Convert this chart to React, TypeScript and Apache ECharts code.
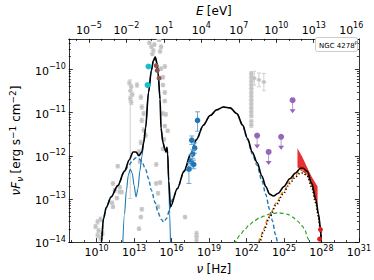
import React, { useEffect, useRef } from "react";
import * as echarts from "echarts";

// Axis ranges (log10 units)
const LOG_NU_MIN = 7.77;
const LOG_NU_MAX = 31;
const LOG_F_MIN = -14;
const LOG_F_MAX = -9.29;
const LOG_NU_PER_EV = 14.383; // log10(nu / E[eV]) = -log10(h)

// Tick labels (exponents)
const nuTicks = [10, 13, 16, 19, 22, 25, 28, 31];
const eTicks = [-5, -2, 1, 4, 7, 10, 13, 16];
const fTicks = [-14, -13, -12, -11, -10];

// Model curves [log nu, log nuFnu]
const totalModel = [
  [10.3, -14.3], [10.385, -14.0], [10.54, -13.47], [10.77, -13.2], [11.155, -12.956], [11.69, -12.69],
  [12.23, -12.356], [12.62, -12.09], [12.92, -11.91], [13.155, -11.91], [13.385, -12.0], [13.62, -11.91],
  [13.77, -11.69], [13.92, -11.356], [14.155, -10.53], [14.385, -10.02], [14.54, -9.8], [14.69, -9.71],
  [14.85, -9.87], [14.92, -10.09], [15.08, -10.69], [15.155, -11.356], [15.31, -11.69], [15.46, -11.84],
  [15.54, -11.91], [15.62, -11.8], [15.69, -11.96], [15.77, -12.58], [15.92, -13.18], [16.46, -12.76],
  [17.0, -12.356], [17.54, -11.956], [18.0, -11.62], [18.54, -11.29], [19.08, -11.067], [19.62, -10.933],
  [20.155, -10.867], [20.69, -10.889], [21.23, -11.022], [21.69, -11.289], [22.08, -11.6], [22.46, -11.911],
  [22.85, -12.156], [23.23, -12.467], [23.54, -12.711], [23.85, -12.889], [24.155, -12.933], [24.54, -12.867],
  [25.0, -12.711], [25.46, -12.533], [25.92, -12.4], [26.31, -12.289], [26.54, -12.289], [26.85, -12.356],
  [27.23, -12.644], [27.54, -13.0], [27.77, -13.356], [27.92, -13.689], [28.0, -14.0], [28.05, -14.3],
];
const synchrotron = [
  [10.3, -14.3], [10.385, -14.0], [10.54, -13.47], [10.77, -13.2], [11.155, -12.956], [11.69, -12.69],
  [12.23, -12.36], [12.62, -12.2], [12.92, -12.09], [13.155, -12.044], [13.385, -12.067], [13.62, -12.133],
  [13.92, -12.311], [14.155, -12.533], [14.385, -12.8], [14.69, -13.089], [14.92, -13.311], [15.155, -13.467],
  [15.385, -13.533], [15.62, -13.444], [15.85, -13.222], [16.08, -13.0], [16.46, -12.77], [17.0, -12.37],
  [17.54, -11.97], [18.0, -11.63], [18.54, -11.29], [19.08, -11.07], [19.62, -10.935], [20.155, -10.87],
  [20.69, -10.89], [21.23, -11.025], [21.69, -11.29], [22.08, -11.622], [22.46, -11.956], [22.85, -12.222],
  [23.23, -12.578], [23.54, -12.889], [23.85, -13.244], [24.08, -13.511], [24.31, -13.822], [24.54, -14.13],
];
const hostDisk = [
  [12.08, -14.13], [12.23, -13.356], [12.385, -12.8], [12.54, -12.444], [12.69, -12.311], [12.85, -12.4],
  [13.0, -12.689], [13.155, -12.956], [13.31, -12.756], [13.46, -12.356], [13.62, -12.022], [13.77, -11.711],
  [13.92, -11.356], [14.155, -10.533], [14.385, -10.022], [14.54, -9.8], [14.69, -9.711], [14.85, -9.87],
  [14.92, -10.09], [15.08, -10.69], [15.155, -11.356], [15.31, -11.69], [15.46, -11.844], [15.54, -11.911],
  [15.62, -11.8], [15.69, -11.956], [15.77, -12.578], [15.85, -13.356], [15.92, -14.13],
];
const externalIC = [
  [20.77, -14.18], [21.08, -14.0], [21.46, -13.844], [21.85, -13.711], [22.23, -13.6], [22.62, -13.511],
  [23.0, -13.444], [23.385, -13.4], [23.77, -13.356], [24.155, -13.333], [24.54, -13.322], [24.92, -13.333],
  [25.31, -13.356], [25.69, -13.422], [26.08, -13.511], [26.46, -13.622], [26.69, -13.733], [26.92, -13.911],
  [27.08, -14.13],
];
const sscComponent = [
  [22.85, -14.133], [23.08, -13.911], [23.385, -13.689], [23.69, -13.467], [24.0, -13.289], [24.385, -13.089],
  [24.92, -12.844], [25.46, -12.6], [25.92, -12.444], [26.31, -12.333], [26.54, -12.333], [26.85, -12.4],
  [27.23, -12.689], [27.54, -13.044], [27.77, -13.4], [27.92, -13.733], [28.0, -14.04], [28.03, -14.3],
];
const absorbedModel = [
  [22.85, -14.178], [23.08, -13.978], [23.385, -13.733], [23.85, -13.422], [24.385, -13.133], [24.92, -12.889],
  [25.46, -12.644], [25.92, -12.489], [26.31, -12.4], [26.54, -12.4], [26.85, -12.467], [27.23, -12.733],
  [27.54, -13.089], [27.77, -13.422], [27.92, -13.756], [28.0, -14.09], [28.03, -14.3],
];

// Data points [log nu, log nuFnu, err down, err up] (decades)
const archival = [
  [9.92, -13.64, 0.05, 0.05], [10.08, -13.53, 0.05, 0.05], [10.08, -13.84, 0.05, 0.05], [10.15, -13.73, 0.05, 0.05],
  [10.31, -13.47, 0.05, 0.05], [10.31, -13.91, 0.05, 0.05], [10.46, -13.8, 0.05, 0.05], [11.23, -13.09, 0.04, 0.04],
  [11.31, -13.18, 0.04, 0.04], [11.31, -12.64, 0.04, 0.04], [11.46, -12.8, 0.04, 0.04], [11.62, -12.98, 0.04, 0.04],
  [11.69, -12.24, 0.04, 0.04], [11.85, -12.73, 0.04, 0.04], [11.85, -12.84, 0.04, 0.04], [12.0, -12.84, 0.04, 0.04],
  [12.69, -10.49, 2.5, 0.25], [12.62, -10.31, 0.05, 0.05], [12.77, -10.4, 0.05, 0.05], [12.85, -10.58, 0.05, 0.05],
  [12.69, -10.67, 0.05, 0.05], [12.77, -10.76, 0.05, 0.05], [13.23, -10.36, 0.05, 0.05], [13.54, -10.64, 0.05, 0.05],
  [13.62, -10.87, 0.05, 0.05], [13.77, -11.02, 0.05, 0.05], [13.62, -11.18, 0.05, 0.05], [13.77, -11.4, 0.05, 0.05],
  [13.92, -11.53, 0.05, 0.05], [13.54, -11.69, 0.05, 0.05], [13.39, -11.91, 0.05, 0.05], [13.46, -12.13, 0.05, 0.05],
  [14.23, -9.38, 0.04, 0.04], [14.39, -9.47, 0.04, 0.04], [14.54, -9.56, 0.04, 0.04], [14.62, -9.42, 0.04, 0.04],
  [15.0, -9.31, 0.04, 0.04], [15.16, -9.47, 0.04, 0.04], [15.08, -9.58, 0.04, 0.04], [14.46, -9.64, 0.04, 0.04],
  [15.16, -9.98, 0.04, 0.04], [15.31, -10.18, 0.04, 0.04], [15.46, -9.93, 0.04, 0.04], [15.31, -10.36, 0.04, 0.04],
  [15.46, -10.53, 0.04, 0.04], [15.46, -10.73, 0.04, 0.04], [15.31, -11.02, 0.04, 0.04], [15.54, -11.04, 0.04, 0.04],
  [15.46, -11.31, 0.04, 0.04], [15.69, -11.42, 0.04, 0.04], [15.39, -11.62, 0.04, 0.04], [15.31, -11.84, 0.04, 0.04],
  [14.77, -12.2, 0.04, 0.04], [14.77, -12.64, 0.04, 0.04], [14.92, -12.87, 0.04, 0.04], [15.08, -12.62, 0.04, 0.04],
  [14.92, -13.18, 0.04, 0.04], [13.62, -13.24, 0.04, 0.04], [13.54, -13.42, 0.04, 0.04], [13.39, -13.69, 0.04, 0.04],
  [17.08, -13.42, 0.04, 0.04], [18.0, -13.8, 0.05, 0.05], [18.0, -13.87, 0.05, 0.05], [18.0, -13.96, 0.05, 0.05],
  [22.385, -10.09, 0.04, 0.04], [22.385, -10.18, 0.04, 0.04], [22.385, -10.27, 0.04, 0.04], [22.385, -10.36, 0.04, 0.04],
  [22.385, -10.44, 0.04, 0.04], [22.385, -10.53, 0.04, 0.04], [22.385, -10.62, 0.04, 0.04], [22.385, -10.71, 0.04, 0.04],
  [22.385, -10.8, 0.04, 0.04], [22.385, -10.89, 0.04, 0.04], [22.385, -10.98, 0.04, 0.04], [22.385, -11.07, 0.04, 0.04],
  [22.385, -11.2, 0.05, 0.05], [22.385, -11.29, 0.05, 0.05], [22.62, -10.2, 0.16, 0.16], [23.0, -10.24, 0.16, 0.16],
  [23.39, -10.29, 0.2, 0.2],
];
const xrayPoints = [
  [18.08, -11.18, 0.25, 0.2], [17.62, -11.64, 0.1, 0.1], [17.85, -11.82, 0.12, 0.12], [17.69, -11.96, 0.1, 0.1],
  [17.54, -12.13, 0.15, 0.15], [17.77, -12.2, 0.1, 0.1], [17.39, -12.31, 0.33, 0.15],
];
const uvPoints = [[14.155, -9.93, 0, 0], [14.08, -10.36, 0, 0]];
const opticalPoints = [[14.77, -9.91, 0, 0], [14.85, -10.02, 0, 0], [15.0, -10.2, 0, 0]];
const upperLimits = [[25.69, -10.71], [22.85, -11.53], [24.77, -11.56], [23.77, -11.91]];
const tevPoints = [[27.92, -13.71, 0.05, 0.05], [27.85, -13.93, 0.05, 0.05]];
const butterflyNu = [26.08, 26.46, 26.85, 27.23, 27.69];
const butterflyUpper = [-11.822, -12.022, -12.267, -12.489, -12.711];
const butterflyLower = [-12.267, -12.356, -12.444, -12.711, -13.133];

const FONT = '"DejaVu Sans", sans-serif';

const expStr = (v: number) => String(Math.round(v)).replace("-", "\u2212");
const tickFormatter = (v: number) => `{b|10}{s|${expStr(v)}}`;
const tickRich = {
  b: { fontSize: 11, fontFamily: FONT, color: "#000", verticalAlign: "bottom", lineHeight: 14 },
  s: { fontSize: 8, fontFamily: FONT, color: "#000", verticalAlign: "top", lineHeight: 14 },
};
const nameRich = {
  i: { fontSize: 12, fontFamily: FONT, fontStyle: "italic", color: "#000", verticalAlign: "middle", lineHeight: 16 },
  n: { fontSize: 12, fontFamily: FONT, color: "#000", verticalAlign: "middle", lineHeight: 16 },
  sub: { fontSize: 9, fontFamily: FONT, fontStyle: "italic", color: "#000", verticalAlign: "bottom", lineHeight: 16 },
  sup: { fontSize: 9, fontFamily: FONT, color: "#000", verticalAlign: "top", lineHeight: 16 },
};

const minorF: number[] = [];
for (let n = -15; n <= -9; n++) {
  for (let k = 2; k <= 9; k++) {
    const v = n + Math.log10(k);
    if (v > LOG_F_MIN && v < LOG_F_MAX) minorF.push(v);
  }
}
const minorNu: number[] = [];
for (let n = 8; n <= 30; n++) if (!nuTicks.includes(n)) minorNu.push(n);
const minorE: number[] = [];
for (let n = -6; n <= 16; n++) if (!eTicks.includes(n)) minorE.push(n);

function errorRender(color: string, barColor: string, r: number, cap: number, hbar: number) {
  return (params: any, api: any) => {
    const x = api.value(0), y = api.value(1);
    const lo = api.value(2) || 0, hi = api.value(3) || 0;
    const c = api.coord([x, y]);
    const children: any[] = [];
    const ls = { stroke: barColor, lineWidth: 1 };
    if (lo > 0 || hi > 0) {
      const top = api.coord([x, y + hi])[1];
      const bot = api.coord([x, y - lo])[1];
      children.push({ type: "line", shape: { x1: c[0], y1: top, x2: c[0], y2: bot }, style: ls });
      children.push({ type: "line", shape: { x1: c[0] - cap, y1: top, x2: c[0] + cap, y2: top }, style: ls });
      children.push({ type: "line", shape: { x1: c[0] - cap, y1: bot, x2: c[0] + cap, y2: bot }, style: ls });
    }
    if (hbar > 0) {
      children.push({ type: "line", shape: { x1: c[0] - hbar, y1: c[1], x2: c[0] + hbar, y2: c[1] }, style: ls });
    }
    children.push({ type: "circle", shape: { cx: c[0], cy: c[1], r }, style: { fill: color } });
    return { type: "group", children };
  };
}

function upperLimitRender(params: any, api: any) {
  const c = api.coord([api.value(0), api.value(1)]);
  const L = 12;
  return {
    type: "group",
    children: [
      { type: "line", shape: { x1: c[0], y1: c[1], x2: c[0], y2: c[1] + L }, style: { stroke: "#b79bd6", lineWidth: 1 } },
      { type: "polygon", shape: { points: [[c[0] - 3, c[1] + L - 3], [c[0] + 3, c[1] + L - 3], [c[0], c[1] + L + 1]] }, style: { fill: "#9467bd" } },
      { type: "circle", shape: { cx: c[0], cy: c[1], r: 3 }, style: { fill: "#9467bd" } },
    ],
  };
}

function butterflyRender(params: any, api: any) {
  const pts: number[][] = [];
  butterflyNu.forEach((nu, i) => pts.push(api.coord([nu, butterflyUpper[i]])));
  for (let i = butterflyNu.length - 1; i >= 0; i--) pts.push(api.coord([butterflyNu[i], butterflyLower[i]]));
  return { type: "polygon", shape: { points: pts }, style: { fill: "#e31a1c", opacity: 0.9 } };
}

const lineSeries = (data: number[][], color: string, width: number, type: any, z: number) => ({
  type: "line",
  data,
  xAxisIndex: 0,
  yAxisIndex: 0,
  showSymbol: false,
  symbol: "none",
  smooth: 0.3,
  smoothMonotone: "x",
  clip: true,
  silent: true,
  z,
  lineStyle: { color, width, type },
});

const customSeries = (data: any[], renderItem: any, z: number) => ({
  type: "custom",
  xAxisIndex: 0,
  yAxisIndex: 0,
  data,
  renderItem,
  encode: { x: 0, y: 1 },
  clip: true,
  silent: true,
  z,
});

export default function App() {
  const ref = useRef<HTMLDivElement>(null);
  useEffect(() => {
    if (!ref.current) return;
    const chart = echarts.init(ref.current, undefined, { renderer: "svg" });
    const axisLine = { show: true, onZero: false, lineStyle: { color: "#000", width: 0.8 } };
    const noLine = { show: false, onZero: false };
    const tickStyle = { color: "#000", width: 0.8 };
    chart.setOption({
      animation: false,
      backgroundColor: "#fff",
      grid: { left: 57, right: 15, top: 32, bottom: 36, containLabel: false },
      xAxis: [
        {
          type: "value", min: LOG_NU_MIN, max: LOG_NU_MAX, position: "bottom",
          name: "{i|ν} {n|[Hz]}", nameLocation: "middle", nameGap: 11,
          nameTextStyle: { rich: nameRich, verticalAlign: "top" },
          axisLine, splitLine: { show: false },
          axisTick: { show: true, inside: true, length: 4, customValues: nuTicks, lineStyle: tickStyle },
          axisLabel: { show: true, customValues: nuTicks, formatter: tickFormatter, rich: tickRich, margin: 2 },
        },
        {
          type: "value", min: LOG_NU_MIN, max: LOG_NU_MAX, position: "bottom",
          axisLine: noLine, splitLine: { show: false }, axisLabel: { show: false },
          axisTick: { show: true, inside: true, length: 2, customValues: minorNu, lineStyle: tickStyle },
        },
        {
          type: "value", min: LOG_NU_MIN - LOG_NU_PER_EV, max: LOG_NU_MAX - LOG_NU_PER_EV, position: "top",
          name: "{i|E} {n|[eV]}", nameLocation: "middle", nameGap: 14,
          nameTextStyle: { rich: nameRich },
          axisLine, splitLine: { show: false },
          axisTick: { show: true, inside: true, length: 4, customValues: eTicks, lineStyle: tickStyle },
          axisLabel: { show: true, customValues: eTicks, formatter: tickFormatter, rich: tickRich, margin: 3 },
        },
        {
          type: "value", min: LOG_NU_MIN - LOG_NU_PER_EV, max: LOG_NU_MAX - LOG_NU_PER_EV, position: "top",
          axisLine: noLine, splitLine: { show: false }, axisLabel: { show: false },
          axisTick: { show: true, inside: true, length: 2, customValues: minorE, lineStyle: tickStyle },
        },
      ],
      yAxis: [
        {
          type: "value", min: LOG_F_MIN, max: LOG_F_MAX, position: "left",
          name: "{i|νF}{sub|ν} {n|[erg s}{sup|−1}{n| cm}{sup|−2}{n|]}", nameLocation: "middle", nameGap: 37,
          nameTextStyle: { rich: nameRich },
          axisLine, splitLine: { show: false },
          axisTick: { show: true, inside: true, length: 4, customValues: fTicks, lineStyle: tickStyle },
          axisLabel: { show: true, customValues: fTicks, formatter: tickFormatter, rich: tickRich, margin: 3 },
        },
        {
          type: "value", min: LOG_F_MIN, max: LOG_F_MAX, position: "left",
          axisLine: noLine, splitLine: { show: false }, axisLabel: { show: false },
          axisTick: { show: true, inside: true, length: 2, customValues: minorF, lineStyle: tickStyle },
        },
        {
          type: "value", min: LOG_F_MIN, max: LOG_F_MAX, position: "right",
          axisLine, splitLine: { show: false }, axisLabel: { show: false },
          axisTick: { show: true, inside: true, length: 4, customValues: fTicks, lineStyle: tickStyle },
        },
        {
          type: "value", min: LOG_F_MIN, max: LOG_F_MAX, position: "right",
          axisLine: noLine, splitLine: { show: false }, axisLabel: { show: false },
          axisTick: { show: true, inside: true, length: 2, customValues: minorF, lineStyle: tickStyle },
        },
      ],
      series: [
        customSeries(archival, errorRender("#c4c4c4", "#cfcfcf", 2, 2, 2.5), 2),
        customSeries([[26.8, -12.4]], butterflyRender, 3),
        lineSeries(hostDisk, "#1f77b4", 1.1, "solid", 4),
        lineSeries(synchrotron, "#1f77b4", 1.4, [4, 2.5], 4),
        lineSeries(externalIC, "#2ca02c", 1.2, [4, 2.5], 4),
        lineSeries(sscComponent, "#ff7f0e", 1.4, [4, 2.5], 4),
        lineSeries(totalModel, "#000", 1.6, "solid", 5),
        lineSeries(absorbedModel, "#000", 1.6, [1.2, 2.2], 6),
        customSeries(xrayPoints, errorRender("#1f77b4", "#6ea6d6", 2.8, 2.5, 0), 7),
        customSeries(uvPoints, errorRender("#17becf", "#17becf", 3, 0, 0), 7),
        customSeries(opticalPoints, errorRender("#8c564b", "#8c564b", 2.5, 0, 0), 7),
        customSeries(upperLimits, upperLimitRender, 7),
        customSeries(tevPoints, errorRender("#e31a1c", "#e31a1c", 2.5, 0, 0), 7),
      ],
      graphic: [
        {
          type: "rect", left: 315, top: 37, z: 20,
          shape: { width: 42, height: 14, r: 2 },
          style: { fill: "#fff", stroke: "#cccccc", lineWidth: 1 },
        },
        {
          type: "text", left: 319, top: 39, z: 21,
          style: {
            text: "{a|NGC 4278}{p|p}",
            rich: {
              a: { fontSize: 7, fontFamily: FONT, fill: "#000", verticalAlign: "bottom", lineHeight: 10 },
              p: { fontSize: 5, fontFamily: FONT, fill: "#000", verticalAlign: "top", lineHeight: 10 },
            },
          },
        },
      ],
    });
    return () => chart.dispose();
  }, []);
  return (
    <div
      ref={ref}
      style={{ position: "fixed", left: 0, top: 0, width: 374, height: 280, background: "#fff" }}
    />
  );
}
